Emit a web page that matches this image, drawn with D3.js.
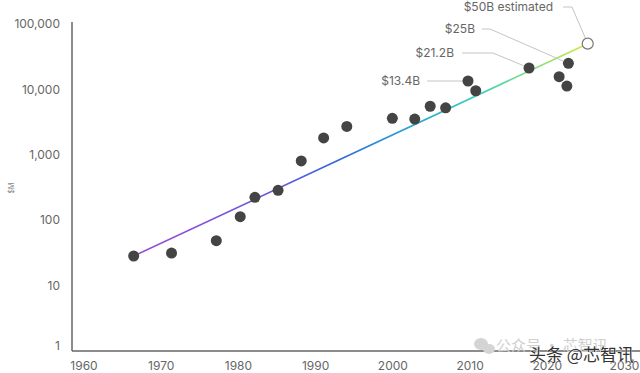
<!DOCTYPE html>
<html>
<head>
<meta charset="utf-8">
<script src="https://cdn.jsdelivr.net/npm/d3@7"></script>
<style>
  html, body { margin: 0; padding: 0; background: #fff; }
  svg { display: block; font-family: Inter, "Noto Sans", sans-serif; }
</style>
</head>
<body>
<svg id="chart" width="640" height="373"></svg>
<script>
// ---- data ----
const years  = [1966.5, 1971.4, 1977.2, 1980.3, 1982.2, 1985.2, 1988.2, 1991.1, 1994.1, 2000.0,
                2002.9, 2004.9, 2006.9, 2009.8, 2010.8, 2017.7, 2021.6, 2022.6, 2022.8];
const costs  = [28, 31, 48, 112, 222, 284, 800, 1800, 2700, 3600,
                3500, 5500, 5200, 13400, 9500, 21200, 15600, 11200, 25000];
const estYear = 2025.3;
const estCost = 50000;
const xTicks = [1960, 1970, 1980, 1990, 2000, 2010, 2020, 2030];
const yTicks = [1, 10, 100, 1000, 10000, 100000];
const annLabels = ["$13.4B", "$21.2B", "$25B", "$50B estimated"];
const annIndex  = [13, 15, 18, -1]; // -1 = estimated point

// ---- layout ----
const svg = d3.select("#chart");
const x = d3.scaleLinear().domain([1960, 2030]).range([83.5, 624]);
const y = d3.scaleLog().domain([1, 100000]).range([350.5, 24]);
const axisX0 = 72, axisY0 = 351;
const grey = "#666";

// gradient for trend line
const defs = svg.append("defs");
const grad = defs.append("linearGradient").attr("id", "trend")
  .attr("gradientUnits", "userSpaceOnUse")
  .attr("x1", x(years[0])).attr("y1", 0)
  .attr("x2", x(estYear)).attr("y2", 0);
[[0, "#9a4ed2"], [0.3, "#6a55e0"], [0.45, "#3468d6"], [0.6, "#2aa2d4"],
 [0.75, "#3ccfc2"], [0.87, "#7edc84"], [1, "#d2ea3e"]].forEach(([o, c]) =>
  grad.append("stop").attr("offset", o).attr("stop-color", c));

// axes lines
svg.append("line").attr("x1", axisX0).attr("x2", axisX0).attr("y1", 22).attr("y2", axisY0)
  .attr("stroke", grey).attr("stroke-width", 1.5);
svg.append("line").attr("x1", axisX0).attr("x2", 640).attr("y1", axisY0).attr("y2", axisY0)
  .attr("stroke", grey).attr("stroke-width", 1.5);

// x axis labels via d3 axis
const gx = svg.append("g").attr("transform", `translate(0,${axisY0})`)
  .call(d3.axisBottom(x).tickValues(xTicks).tickFormat(d3.format("d")).tickSize(0).tickPadding(10));
gx.select(".domain").remove();
gx.selectAll("text").attr("fill", grey).attr("font-size", 12).attr("font-family", "Inter, sans-serif");

// y axis labels via d3 axis
const gy = svg.append("g").attr("transform", `translate(60,0)`)
  .call(d3.axisLeft(y).tickValues(yTicks).tickFormat(d3.format(",")).tickSize(0).tickPadding(0));
gy.select(".domain").remove();
gy.selectAll("text").attr("fill", grey).attr("font-size", 12).attr("font-family", "Inter, sans-serif");
gy.selectAll(".tick").filter(d => d === 1).select("text").attr("dy", "-0.05em");

// y axis title
svg.append("text").attr("transform", "translate(14,188) rotate(-90)")
  .attr("text-anchor", "middle").attr("font-size", 7).attr("fill", "#888").text("$M");

// trend line
svg.append("line")
  .attr("x1", x(years[0])).attr("y1", y(costs[0]))
  .attr("x2", x(estYear)).attr("y2", y(estCost))
  .attr("stroke", "url(#trend)").attr("stroke-width", 1.6);

// annotations
const annText = [[420, 81], [454, 53], [475, 29], [553, 7]];
const annBend = [[427, 463], [462, 493], [482, 490], [563, 572]];
annLabels.forEach((lab, i) => {
  const k = annIndex[i];
  const px = k < 0 ? x(estYear) : x(years[k]);
  const py = k < 0 ? y(estCost) : y(costs[k]);
  const [tx, ty] = annText[i];
  const [b0, b1] = annBend[i];
  const r = 6;
  const dx = px - b1, dy = py - ty, len = Math.hypot(dx, dy);
  const ex = px - dx / len * r, ey = py - dy / len * r;
  svg.append("path")
    .attr("d", `M${b0},${ty}H${b1}L${ex},${ey}`)
    .attr("fill", "none").attr("stroke", "#c4c4c4").attr("stroke-width", 1);
  svg.append("text").attr("x", tx).attr("y", ty).attr("dy", "0.35em")
    .attr("text-anchor", "end").attr("font-size", 12).attr("fill", grey).text(lab);
});

// data points
svg.append("g").selectAll("circle").data(years).join("circle")
  .attr("cx", d => x(d)).attr("cy", (d, i) => y(costs[i])).attr("r", 5.5)
  .attr("fill", "#444");

// estimated point
svg.append("circle").attr("cx", x(estYear)).attr("cy", y(estCost)).attr("r", 5.5)
  .attr("fill", "#fff").attr("stroke", "#777").attr("stroke-width", 1.2);

// watermark
const wm = svg.append("g");
wm.append("ellipse").attr("cx", 481).attr("cy", 344).attr("rx", 7).attr("ry", 6).attr("fill", "#d4d4d4");
wm.append("ellipse").attr("cx", 489).attr("cy", 349).attr("rx", 6).attr("ry", 5).attr("fill", "#d4d4d4");
wm.append("text").attr("x", 496).attr("y", 351).attr("font-size", 15)
  .attr("font-family", "'Noto Sans CJK SC', sans-serif").attr("fill", "#d0d0d0").text("公众号 · 芯智讯");
wm.append("text").attr("x", 529).attr("y", 361).attr("font-size", 17)
  .attr("font-family", "'Noto Sans CJK SC', sans-serif").attr("fill", "#333")
  .attr("stroke", "#fff").attr("stroke-width", 0.6).attr("paint-order", "stroke").text("头条 @芯智讯");
</script>
</body>
</html>
